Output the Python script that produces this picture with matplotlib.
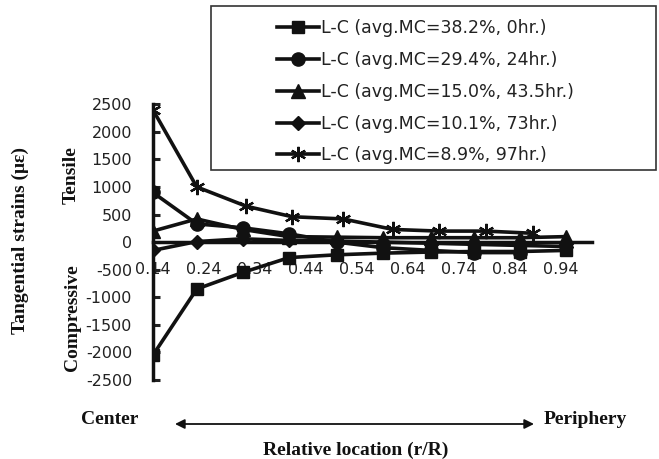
import matplotlib
matplotlib.use("Agg")
import matplotlib.pyplot as plt
from matplotlib.patches import Rectangle

# values (r/R, microstrain)
x_sq = [0.14, 0.226, 0.316, 0.407, 0.50, 0.59, 0.684, 0.77, 0.86, 0.95]
mc38 = [-2050, -850, -550, -280, -230, -200, -180, -170, -170, -150]
x_ci = [0.14, 0.226, 0.316, 0.407, 0.50, 0.59, 0.684, 0.77, 0.86]
mc29 = [900, 330, 260, 150, 0, -100, -150, -190, -190]
x_tr = [0.14, 0.226, 0.316, 0.407, 0.50, 0.59, 0.684, 0.77, 0.86, 0.95]
mc15 = [200, 420, 230, 100, 90, 80, 80, 80, 80, 100]
x_di = [0.14, 0.226, 0.316, 0.407, 0.50, 0.59, 0.684, 0.77, 0.86, 0.95]
mc10 = [-150, 10, 60, 30, 20, 0, -20, -40, -60, -80]
x_st = [0.14, 0.226, 0.323, 0.413, 0.513, 0.61, 0.70, 0.792, 0.885]
mc9 = [2400, 1000, 650, 460, 420, 230, 200, 200, 160]

labels = ["L-C (avg.MC=38.2%, 0hr.)", "L-C (avg.MC=29.4%, 24hr.)",
          "L-C (avg.MC=15.0%, 43.5hr.)", "L-C (avg.MC=10.1%, 73hr.)",
          "L-C (avg.MC=8.9%, 97hr.)"]
xticks = [0.14, 0.24, 0.34, 0.44, 0.54, 0.64, 0.74, 0.84, 0.94]
yticks = list(range(-2500, 2501, 500))

k = "#111111"
fig = plt.figure(figsize=(6.59, 4.59), dpi=100)
ax = fig.add_axes([0.232, 0.172, 0.666, 0.601])

lw = 2.6
ax.plot(x_sq, mc38, color=k, lw=lw, marker="s", ms=9, label=labels[0])
ax.plot(x_ci, mc29, color=k, lw=lw, marker="o", ms=9.5, label=labels[1])
ax.plot(x_tr, mc15, color=k, lw=lw, marker="^", ms=9.5, label=labels[2])
ax.plot(x_di, mc10, color=k, lw=lw, marker="D", ms=7, label=labels[3])
ax.plot(x_st, mc9, color=k, lw=lw, marker=(6, 2, 0), ms=11, mew=1.6, label=labels[4])

ax.set_xlim(0.14, 1.0)
ax.set_ylim(-2500, 2500)
ax.set_xticks(xticks)
ax.set_xticklabels([f"{v:.2f}" for v in xticks])
ax.set_yticks(yticks)
ax.set_yticklabels([str(v) for v in yticks])
for s in ["top", "right"]:
    ax.spines[s].set_visible(False)
ax.spines["bottom"].set_position(("data", 0))
ax.spines["bottom"].set_linewidth(2.5)
ax.spines["left"].set_linewidth(2.5)
ax.spines["bottom"].set_color(k)
ax.spines["left"].set_color(k)
ax.tick_params(axis="x", length=0, pad=14, labelsize=11.5, colors="#222222")
ax.tick_params(axis="y", direction="in", length=5, width=2.2, pad=15,
               labelsize=11.5, colors="#222222")
ax.patch.set_alpha(0)

leg = ax.legend(loc="upper left", bbox_to_anchor=(270 / 659, 1 - 12 / 459),
                bbox_transform=fig.transFigure, frameon=False, fontsize=12.5,
                handlelength=2.4, handletextpad=0.15, labelspacing=0.8,
                borderaxespad=0)
for t in leg.get_texts():
    t.set_color("#222222")
fig.patches.append(Rectangle((211 / 659, 1 - 170 / 459), 445 / 659, 164 / 459,
                             transform=fig.transFigure, fill=False,
                             edgecolor="#333333", lw=1.2))

serif = dict(family="Liberation Serif", weight="bold", color=k)
fig.text(20 / 659, 1 - 240 / 459, "Tangential strains (με)", rotation=90,
         ha="center", va="center", fontsize=14, **serif)
fig.text(71 / 659, 1 - 175 / 459, "Tensile", rotation=90,
         ha="center", va="center", fontsize=14, **serif)
fig.text(72 / 659, 1 - 318 / 459, "Compressive", rotation=90,
         ha="center", va="center", fontsize=14, **serif)
fig.text(110 / 659, 1 - 420 / 459, "Center", ha="center", va="center",
         fontsize=14, **serif)
fig.text(585 / 659, 1 - 420 / 459, "Periphery", ha="center", va="center",
         fontsize=14, **serif)
fig.text(356 / 659, 1 - 450 / 459, "Relative location (r/R)", ha="center",
         va="center", fontsize=14, **serif)
ax.annotate("", xy=(534 / 659, 1 - 424 / 459), xytext=(175 / 659, 1 - 424 / 459),
            xycoords="figure fraction", textcoords="figure fraction",
            arrowprops=dict(arrowstyle="<|-|>", color=k, lw=1.3,
                            mutation_scale=14, shrinkA=0, shrinkB=0))

fig.savefig("out.png", dpi=100)
